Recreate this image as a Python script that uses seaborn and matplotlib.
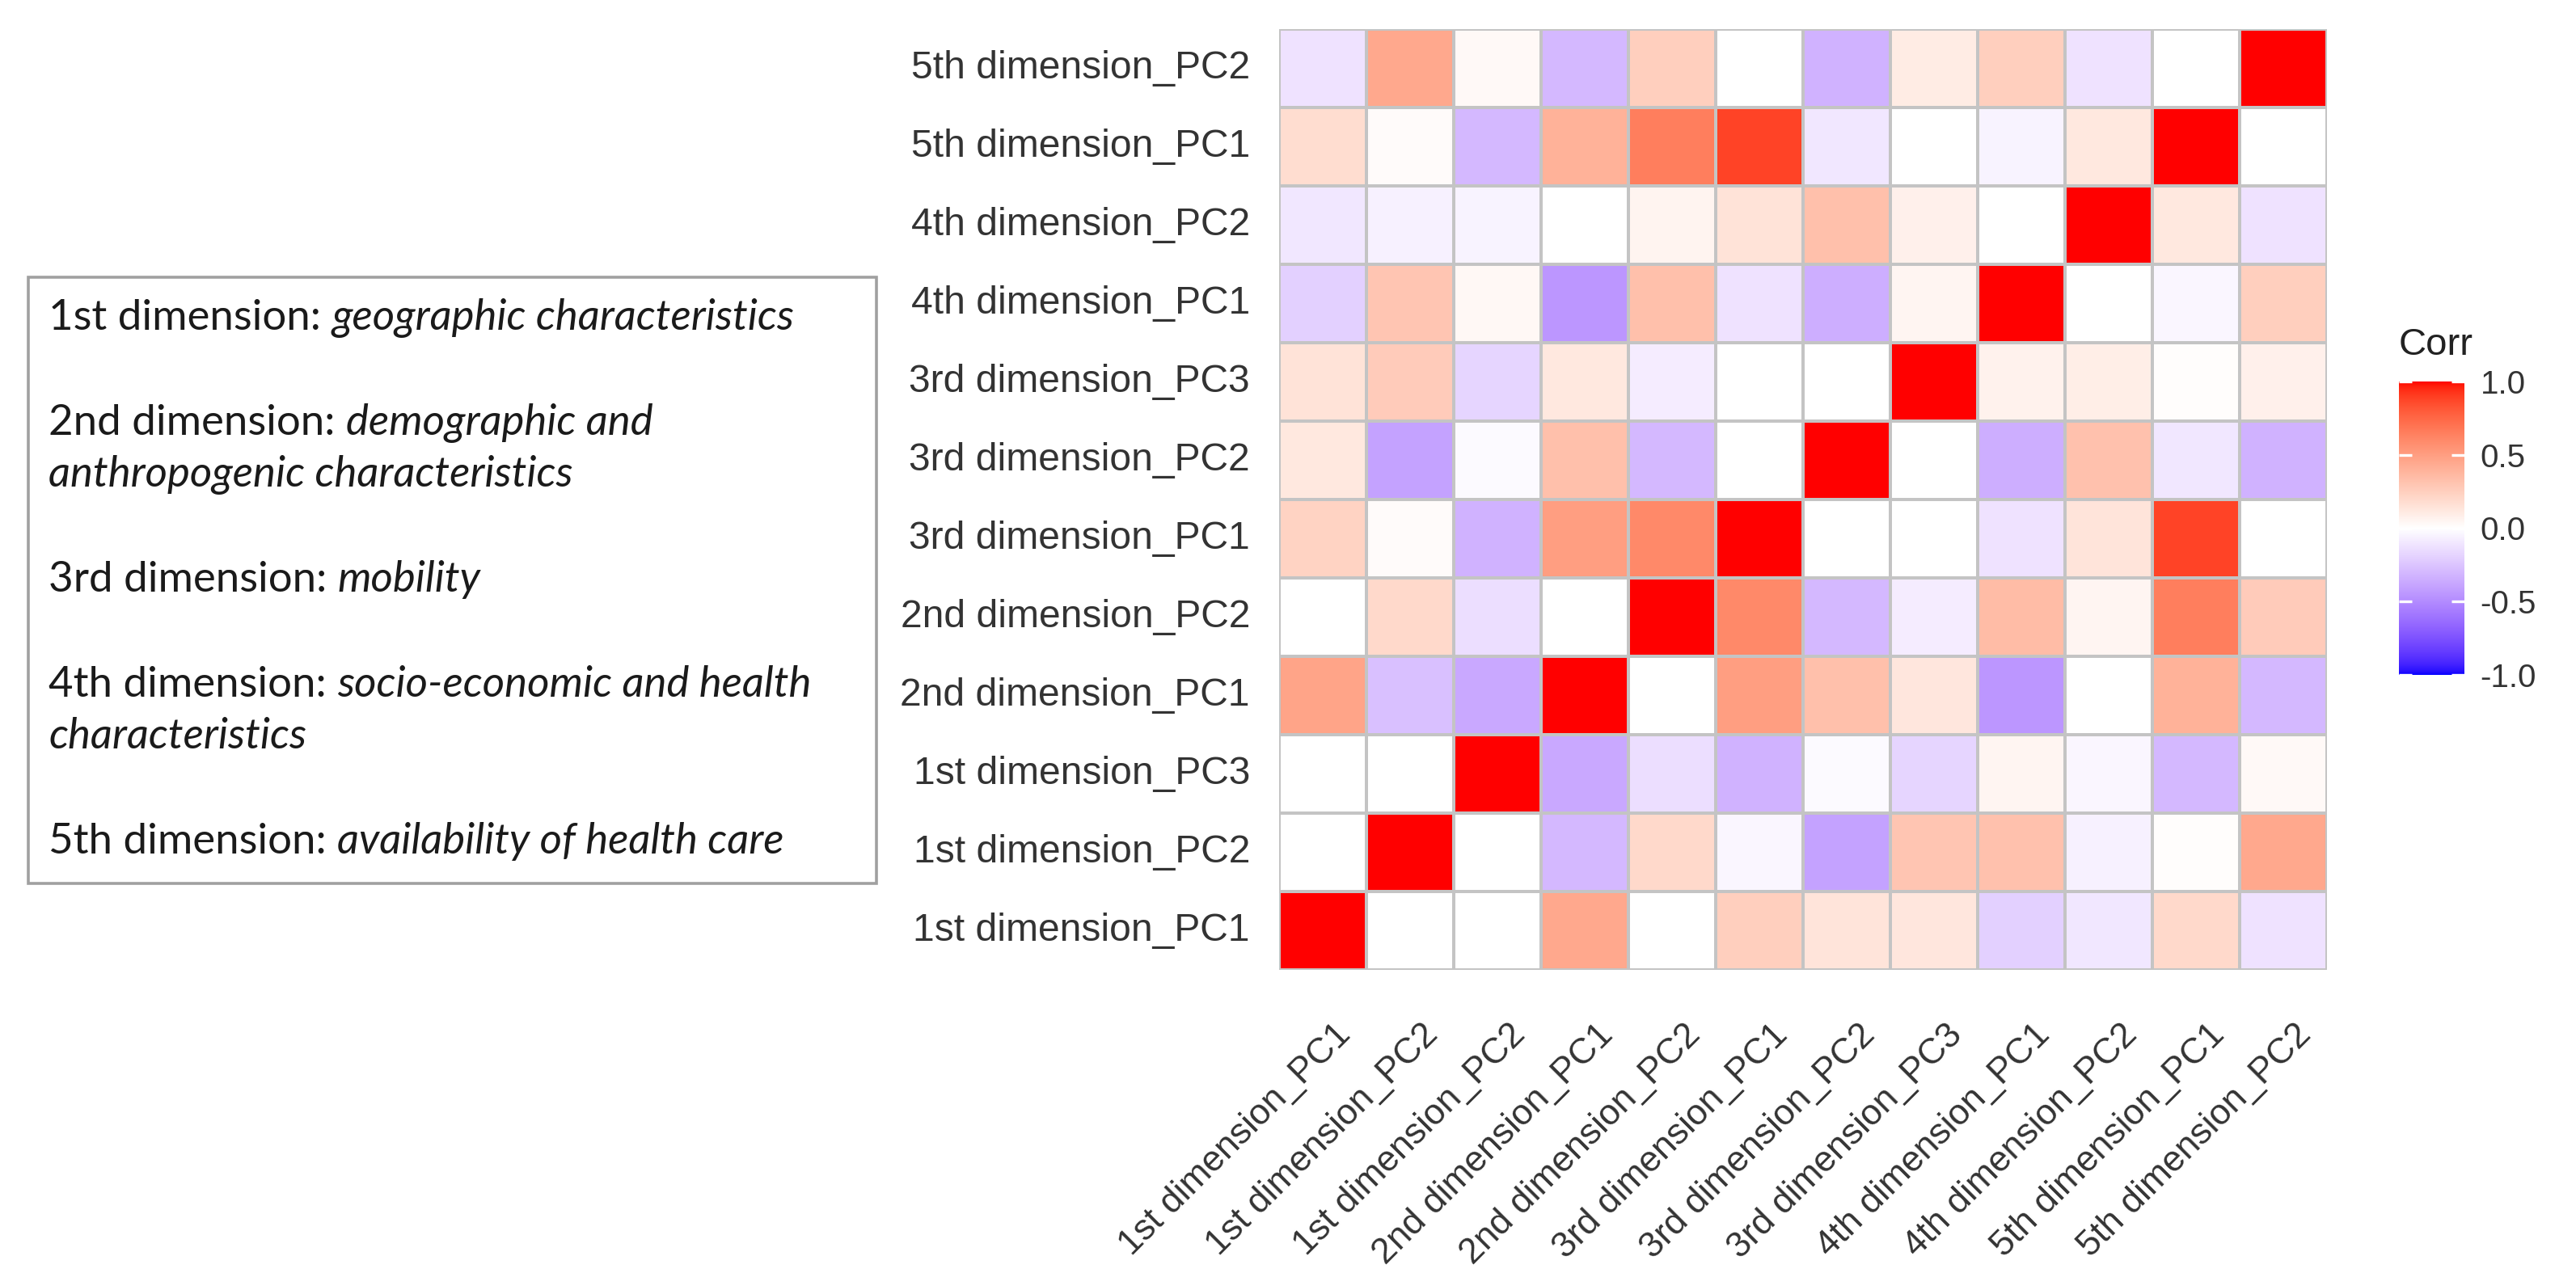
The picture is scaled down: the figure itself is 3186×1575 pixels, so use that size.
import numpy as np
import pandas as pd
import matplotlib
matplotlib.use("Agg")
import matplotlib.pyplot as plt
import matplotlib.transforms as mtransforms
import seaborn as sns
from matplotlib.colors import ListedColormap
from matplotlib.patches import Rectangle

# ---------------- data ----------------
row_labels = ["5th dimension_PC2", "5th dimension_PC1", "4th dimension_PC2", "4th dimension_PC1",
              "3rd dimension_PC3", "3rd dimension_PC2", "3rd dimension_PC1", "2nd dimension_PC2",
              "2nd dimension_PC1", "1st dimension_PC3", "1st dimension_PC2", "1st dimension_PC1"]
col_labels = ["1st dimension_PC1", "1st dimension_PC2", "1st dimension_PC2", "2nd dimension_PC1",
              "2nd dimension_PC2", "3rd dimension_PC1", "3rd dimension_PC2", "3rd dimension_PC3",
              "4th dimension_PC1", "4th dimension_PC2", "5th dimension_PC1", "5th dimension_PC2"]

r_5th_pc2 = [-0.12, 0.45, 0.03, -0.30, 0.25, 0.00, -0.33, 0.10, 0.25, -0.12, 0.00, 1.00]
r_5th_pc1 = [0.18, 0.02, -0.30, 0.40, 0.65, 0.88, -0.10, 0.00, -0.05, 0.12, 1.00, 0.00]
r_4th_pc2 = [-0.10, -0.06, -0.05, 0.00, 0.06, 0.15, 0.33, 0.08, 0.00, 1.00, 0.12, -0.12]
r_4th_pc1 = [-0.20, 0.30, 0.04, -0.45, 0.33, -0.12, -0.35, 0.05, 1.00, 0.00, -0.04, 0.25]
r_3rd_pc3 = [0.15, 0.27, -0.18, 0.12, -0.08, 0.00, 0.00, 1.00, 0.07, 0.09, 0.01, 0.08]
r_3rd_pc2 = [0.12, -0.40, -0.02, 0.33, -0.30, 0.00, 1.00, 0.00, -0.35, 0.32, -0.10, -0.33]
r_3rd_pc1 = [0.23, 0.02, -0.33, 0.50, 0.60, 1.00, 0.00, 0.00, -0.12, 0.14, 0.88, 0.00]
r_2nd_pc2 = [0.00, 0.20, -0.14, 0.00, 1.00, 0.60, -0.30, -0.08, 0.35, 0.05, 0.65, 0.27]
r_2nd_pc1 = [0.47, -0.27, -0.37, 1.00, 0.00, 0.50, 0.33, 0.13, -0.45, 0.00, 0.40, -0.30]
r_1st_pc3 = [0.00, 0.00, 1.00, -0.37, -0.14, -0.33, -0.02, -0.18, 0.05, -0.04, -0.30, 0.03]
r_1st_pc2 = [0.00, 1.00, 0.00, -0.30, 0.20, -0.04, -0.40, 0.30, 0.32, -0.06, 0.01, 0.45]
r_1st_pc1 = [1.00, 0.00, 0.00, 0.45, 0.00, 0.25, 0.14, 0.13, -0.20, -0.10, 0.20, -0.12]

cbar_ticks = [-1.0, -0.5, 0.0, 0.5, 1.0]
cbar_title = "Corr"

legend_prefix = ["1st dimension: ", "2nd dimension: ", "3rd dimension: ", "4th dimension: ", "5th dimension: "]
legend_desc = [["geographic characteristics"],
               ["demographic and", "anthropogenic characteristics"],
               ["mobility"],
               ["socio-economic and health", "characteristics"],
               ["availability of health care"]]

# ---------------- colormap (Lab interpolation, like ggplot gradient2) ----------------
_M = np.array([[0.4124564, 0.3575761, 0.1804375],
               [0.2126729, 0.7151522, 0.0721750],
               [0.0193339, 0.1191920, 0.9503041]])
_WP = np.array([0.95047, 1.0, 1.08883])


def srgb_to_lab(c):
    c = np.asarray(c, float)
    lin = np.where(c <= 0.04045, c / 12.92, ((c + 0.055) / 1.055) ** 2.4)
    xyz = _M @ lin / _WP
    d = 6 / 29
    f = np.where(xyz > d ** 3, np.cbrt(xyz), xyz / (3 * d ** 2) + 4 / 29)
    return np.array([116 * f[1] - 16, 500 * (f[0] - f[1]), 200 * (f[1] - f[2])])


def lab_to_srgb(lab):
    L, a, b = lab
    fy = (L + 16) / 116
    fx = fy + a / 500
    fz = fy - b / 200
    d = 6 / 29
    f = np.array([fx, fy, fz])
    xyz = np.where(f > d, f ** 3, 3 * d ** 2 * (f - 4 / 29)) * _WP
    lin = np.linalg.inv(_M) @ xyz
    lin = np.clip(lin, 0, 1)
    c = np.where(lin <= 0.0031308, 12.92 * lin, 1.055 * lin ** (1 / 2.4) - 0.055)
    return np.clip(c, 0, 1)


lab_w = srgb_to_lab([1, 1, 1])
lab_r = srgb_to_lab([1, 0, 0])
lab_b = srgb_to_lab([0, 0, 1])
cols = []
for v in np.linspace(-1, 1, 511):
    if v < 0:
        lab = lab_w + (lab_b - lab_w) * (-v)
    else:
        lab = lab_w + (lab_r - lab_w) * v
    cols.append(lab_to_srgb(lab))
cmap = ListedColormap(cols)

# ---------------- figure ----------------
sns.set_style("white")
plt.rcParams["font.family"] = ["Liberation Sans", "DejaVu Sans"]
plt.rcParams["axes.unicode_minus"] = False

W, H = 3186, 1575
DPI = 200
fig = plt.figure(figsize=(W / DPI, H / DPI), dpi=DPI)

ax = fig.add_axes([1582 / W, 1 - 1200 / H, (2878 - 1582) / W, (1200 - 36) / H])
cax = fig.add_axes([2967 / W, 1 - 835 / H, (3048 - 2967) / W, (835 - 472) / H])

data = pd.DataFrame([r_5th_pc2, r_5th_pc1, r_4th_pc2, r_4th_pc1, r_3rd_pc3, r_3rd_pc2,
                     r_3rd_pc1, r_2nd_pc2, r_2nd_pc1, r_1st_pc3, r_1st_pc2, r_1st_pc1],
                    index=row_labels)

sns.heatmap(data, ax=ax, cmap=cmap, vmin=-1, vmax=1, linewidths=1.4, linecolor="#C4C4C4",
            xticklabels=col_labels, yticklabels=row_labels, cbar_ax=cax,
            cbar_kws={"ticks": cbar_ticks})

ax.set_xlabel("")
ax.set_ylabel("")
ax.tick_params(axis="both", length=0)
ax.tick_params(axis="y", pad=13)
ax.tick_params(axis="x", pad=16)
for t in ax.get_yticklabels():
    t.set_rotation(0)
    t.set_fontsize(17.3)
    t.set_color("#333333")
shift = mtransforms.ScaledTranslation(14 / DPI, -15 / DPI, fig.dpi_scale_trans)
for t in ax.get_xticklabels():
    t.set_rotation(45)
    t.set_ha("right")
    t.set_va("top")
    t.set_rotation_mode("anchor")
    t.set_fontsize(16)
    t.set_color("#333333")
    t.set_transform(t.get_transform() + shift)

# colorbar styling
cbar = ax.collections[0].colorbar
cbar.outline.set_visible(False)
cax.tick_params(length=0, pad=7, labelsize=14.5, labelcolor="#333333")
cax.set_yticklabels([f"{v:.1f}" for v in cbar_ticks])
for v in cbar_ticks:
    cax.plot([0, 0.2], [v, v], color="white", lw=1.2, solid_capstyle="butt")
    cax.plot([0.8, 1], [v, v], color="white", lw=1.2, solid_capstyle="butt")
cax.set_xlim(0, 1)
fig.text(2967 / W, 1 - 427 / H, cbar_title, ha="left", va="center", fontsize=17, color="#222222")

# ---------------- description box ----------------
fig.patches.append(Rectangle((35 / W, 1 - 1093 / H), (1084 - 35) / W, (1093 - 343) / H,
                             transform=fig.transFigure, fill=False, edgecolor="#A0A0A0", lw=1.3))

renderer = fig.canvas.get_renderer()
fam = ["Lato", "DejaVu Sans"]
fs = 19
x0 = 60
y = 408
line_step = 64
para_gap = 66
for pre, desc in zip(legend_prefix, legend_desc):
    t1 = fig.text(x0 / W, 1 - y / H, pre, ha="left", va="baseline", fontsize=fs,
                  family=fam, color="#1a1a1a")
    bb = t1.get_window_extent(renderer)
    fig.text(bb.x1 / W, 1 - y / H, desc[0], ha="left", va="baseline", fontsize=fs,
             family=fam, style="italic", color="#1a1a1a")
    for extra in desc[1:]:
        y += line_step
        fig.text(x0 / W, 1 - y / H, extra, ha="left", va="baseline", fontsize=fs,
                 family=fam, style="italic", color="#1a1a1a")
    y += line_step + para_gap

fig.savefig("out.png", dpi=DPI, facecolor="white")
